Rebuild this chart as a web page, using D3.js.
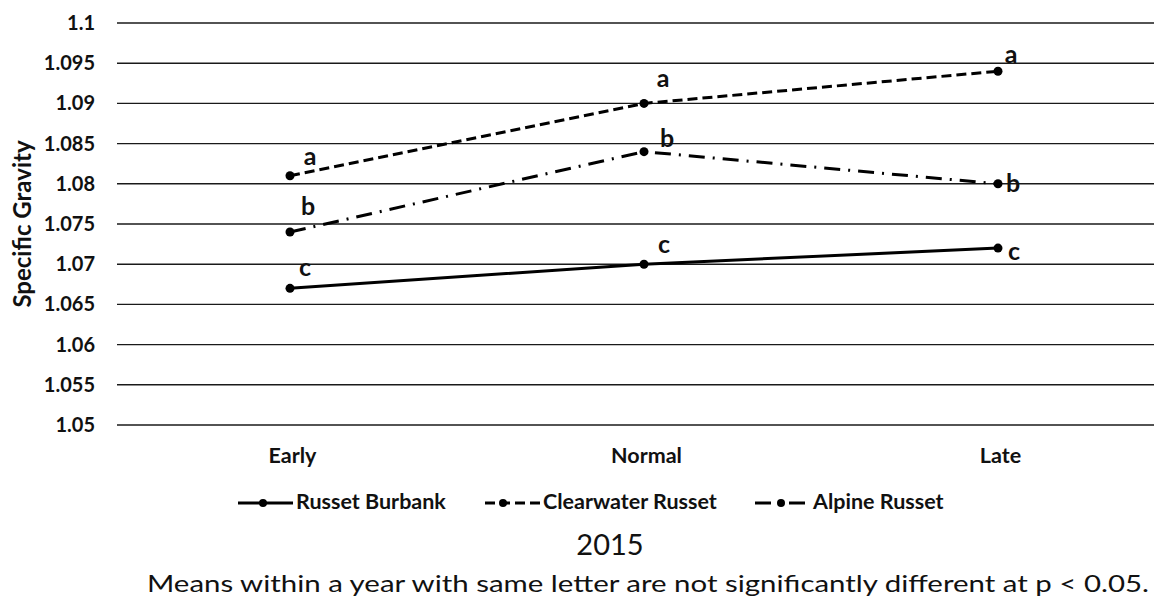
<!DOCTYPE html>
<html>
<head>
<meta charset="utf-8">
<script src="https://cdn.jsdelivr.net/npm/d3@7/dist/d3.min.js"></script>
<style>
  html, body { margin: 0; padding: 0; background: #fff; }
  svg { display: block; font-family: Lato, "Open Sans", sans-serif; }
</style>
</head>
<body>
<svg id="chart" width="1154" height="599"></svg>
<script>
// Planting dates on the x axis
const categories = ["Early", "Normal", "Late"];
// Mean specific gravity per cultivar
const russetBurbank = [1.067, 1.070, 1.072];
const clearwaterRusset = [1.081, 1.090, 1.094];
const alpineRusset = [1.074, 1.084, 1.080];
// Mean separation letters
const burbankLetters = ["c", "c", "c"];
const clearwaterLetters = ["a", "a", "a"];
const alpineLetters = ["b", "b", "b"];
// Y axis ticks
const yTicks = [1.05, 1.055, 1.06, 1.065, 1.07, 1.075, 1.08, 1.085, 1.09, 1.095, 1.1];
const yTickLabels = ["1.05", "1.055", "1.06", "1.065", "1.07", "1.075", "1.08", "1.085", "1.09", "1.095", "1.1"];

const series = [
  { name: "Russet Burbank", values: russetBurbank, letters: burbankLetters, dash: null,
    letterOffsets: [[15, -12], [20, -11], [16, 12]], legendX: 238, markerDx: 25 },
  { name: "Clearwater Russet", values: clearwaterRusset, letters: clearwaterLetters, dash: "10,5",
    letterOffsets: [[20, -11], [19, -16], [13, -8]], legendX: 485, markerDx: 18 },
  { name: "Alpine Russet", values: alpineRusset, letters: alpineLetters, dash: "16,8,2,8",
    letterOffsets: [[18, -17], [23, -5], [15, 8]], legendX: 755, markerDx: 26 }
];

const svg = d3.select("#chart");

const x = d3.scalePoint().domain(categories).range([113, 1175]).padding(0.5);
const y = d3.scaleLinear().domain([1.05, 1.1]).range([425, 23]);

// Horizontal gridlines
svg.append("g").selectAll("line").data(yTicks).join("line")
  .attr("x1", 117).attr("x2", 1175)
  .attr("y1", d => y(d)).attr("y2", d => y(d))
  .attr("stroke", "#1a1a1a").attr("stroke-width", 1.4);

// Y axis tick labels
const yAxis = d3.axisLeft(y).tickValues(yTicks)
  .tickFormat((d, i) => yTickLabels[i]).tickSize(0).tickPadding(0);
const yg = svg.append("g").attr("transform", "translate(95,0)").call(yAxis);
yg.select(".domain").remove();
yg.selectAll("text").attr("font-family", "Lato, sans-serif")
  .attr("font-size", 20).attr("font-weight", 700).attr("fill", "#111");

// X axis category labels
const xAxis = d3.axisBottom(x).tickSize(0).tickPadding(0);
const xg = svg.append("g").attr("transform", "translate(2,0)").call(xAxis);
xg.select(".domain").remove();
xg.selectAll("text").attr("font-family", "Lato, sans-serif")
  .attr("y", 463).attr("dy", null)
  .attr("font-size", 21.5).attr("font-weight", 700).attr("fill", "#111");

// Y axis title
svg.append("text")
  .attr("transform", "translate(31,224) rotate(-90)")
  .attr("text-anchor", "middle")
  .attr("font-size", 24).attr("font-weight", 700).attr("fill", "#111")
  .text("Specific Gravity");

// Lines, markers and letters
const line = d3.line().x((d, i) => x(categories[i])).y(d => y(d));
series.forEach(s => {
  svg.append("path").datum(s.values)
    .attr("d", line).attr("fill", "none")
    .attr("stroke", "#000").attr("stroke-width", 3)
    .attr("stroke-dasharray", s.dash);
  svg.append("g").selectAll("circle").data(s.values).join("circle")
    .attr("cx", (d, i) => x(categories[i])).attr("cy", d => y(d))
    .attr("r", 4.5).attr("fill", "#000");
  svg.append("g").selectAll("text").data(s.values).join("text")
    .attr("x", (d, i) => x(categories[i]) + s.letterOffsets[i][0])
    .attr("y", (d, i) => y(d) + s.letterOffsets[i][1])
    .attr("text-anchor", "middle")
    .attr("font-size", 25).attr("font-weight", 700).attr("fill", "#111")
    .text((d, i) => s.letters[i]);
});

// Legend
const ly = 503;
series.forEach(s => {
  const g = svg.append("g");
  g.append("line").attr("x1", s.legendX).attr("x2", s.legendX + 55)
    .attr("y1", ly).attr("y2", ly)
    .attr("stroke", "#000").attr("stroke-width", 3)
    .attr("stroke-dasharray", s.dash);
  g.append("circle").attr("cx", s.legendX + s.markerDx).attr("cy", ly).attr("r", 4).attr("fill", "#000");
  g.append("text").attr("x", s.legendX + 58).attr("y", ly + 6)
    .attr("font-size", 21.5).attr("font-weight", 700).attr("fill", "#111")
    .text(s.name);
});

// Year and footnote
svg.append("text").attr("x", 610).attr("y", 555).attr("text-anchor", "middle")
  .attr("font-size", 29).attr("fill", "#111").text("2015");
svg.append("text").attr("x", 147).attr("y", 592)
  .attr("font-size", 24).attr("fill", "#111")
  .attr("textLength", 1002).attr("lengthAdjust", "spacingAndGlyphs")
  .text("Means within a year with same letter are not significantly different at p < 0.05.");
</script>
</body>
</html>
